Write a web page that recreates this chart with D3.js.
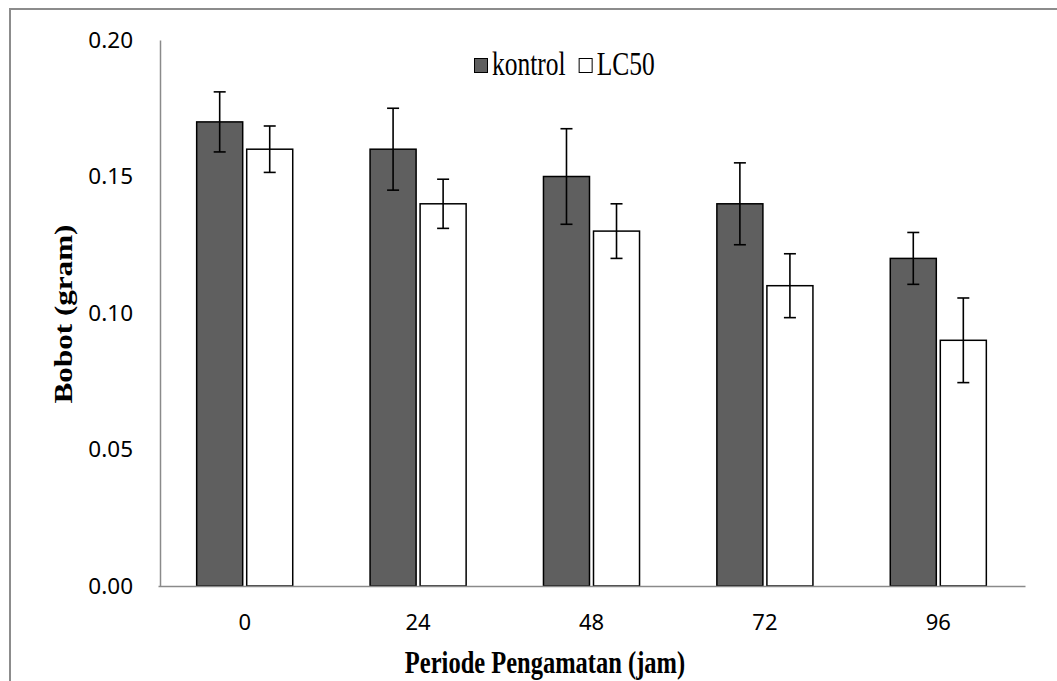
<!DOCTYPE html>
<html>
<head>
<meta charset="utf-8">
<script src="https://cdn.jsdelivr.net/npm/d3@7"></script>
<style>
  body { margin: 0; background: #fff; }
  svg { display: block; }
</style>
</head>
<body>
<svg id="chart"></svg>
<script>
var periods = ["0", "24", "48", "72", "96"];
var seriesNames = ["kontrol", "LC50"];
var kontrol = [0.17, 0.16, 0.15, 0.14, 0.12];
var kontrolErr = [0.011, 0.015, 0.0175, 0.015, 0.0095];
var lc50 = [0.16, 0.14, 0.13, 0.11, 0.09];
var lc50Err = [0.0085, 0.009, 0.010, 0.0117, 0.0155];
var yTicks = [0, 0.05, 0.10, 0.15, 0.20];

var width = 1057,
    height = 681,
    plotLeft = 158, plotRight = 1025,
    plotTop = 40, plotBottom = 586;

var colors = { kontrol: "#5f5f5f", LC50: "#ffffff" };
var serif = "'Liberation Serif', 'Times New Roman', serif";
var sans = "'Noto Sans', sans-serif";

var svg = d3.select("#chart")
    .attr("width", width)
    .attr("height", height);

// outer frame (only left and top edges show)
svg.append("rect")
    .attr("x", 10).attr("y", 9)
    .attr("width", width + 20).attr("height", height + 20)
    .attr("fill", "none")
    .attr("stroke", "#8c8c8c")
    .attr("stroke-width", 2);

var x = d3.scaleBand().domain(periods).range([plotLeft, plotRight]);
var bw = x.bandwidth();
var group = 0.554 * bw;
var xs = d3.scaleBand().domain(seriesNames)
    .range([(bw - group) / 2, (bw + group) / 2])
    .paddingInner(0.08);
var y = d3.scaleLinear().domain([0, 0.20]).range([plotBottom, plotTop]);

var rows = periods.map(function(p, i) {
    return {
        period: p,
        values: [
            { key: "kontrol", v: kontrol[i], e: kontrolErr[i] },
            { key: "LC50", v: lc50[i], e: lc50Err[i] }
        ]
    };
});

// y axis
var yAxis = svg.append("g")
    .attr("transform", "translate(" + (plotLeft + 2) + ",0)")
    .call(d3.axisLeft(y).tickValues(yTicks).tickSize(0).tickPadding(27)
        .tickFormat(d3.format(".2f")));
yAxis.select(".domain").attr("stroke", "#8a8a8a").attr("stroke-width", 1.5);
yAxis.selectAll("text")
    .attr("font-family", sans)
    .attr("font-size", 22.5)
    .attr("fill", "#000");

var groups = svg.selectAll(".grp")
    .data(rows)
    .enter().append("g")
    .attr("class", "grp")
    .attr("transform", function(d) { return "translate(" + x(d.period) + ",0)"; });

groups.selectAll("rect")
    .data(function(d) { return d.values; })
    .enter().append("rect")
    .attr("x", function(d) { return xs(d.key); })
    .attr("y", function(d) { return y(d.v); })
    .attr("width", xs.bandwidth())
    .attr("height", function(d) { return y(0) - y(d.v); })
    .attr("fill", function(d) { return colors[d.key]; })
    .attr("stroke", "#000")
    .attr("stroke-width", 1.5);

// x axis
var xAxis = svg.append("g")
    .attr("transform", "translate(0," + plotBottom + ")")
    .call(d3.axisBottom(x).tickSize(0).tickPadding(28));
xAxis.select(".domain").attr("stroke", "#8a8a8a").attr("stroke-width", 1.5);
xAxis.selectAll("text")
    .attr("font-family", sans)
    .attr("font-size", 22)
    .attr("fill", "#000");

// error bars
var eb = groups.selectAll(".err")
    .data(function(d) { return d.values; })
    .enter().append("g")
    .attr("class", "err")
    .attr("stroke", "#000")
    .attr("stroke-width", 1.6);
eb.append("line")
    .attr("x1", function(d) { return xs(d.key) + xs.bandwidth() / 2; })
    .attr("x2", function(d) { return xs(d.key) + xs.bandwidth() / 2; })
    .attr("y1", function(d) { return y(d.v + d.e); })
    .attr("y2", function(d) { return y(d.v - d.e); });
[1, -1].forEach(function(s) {
    eb.append("line")
        .attr("x1", function(d) { return xs(d.key) + xs.bandwidth() / 2 - 6; })
        .attr("x2", function(d) { return xs(d.key) + xs.bandwidth() / 2 + 6; })
        .attr("y1", function(d) { return y(d.v + s * d.e); })
        .attr("y2", function(d) { return y(d.v + s * d.e); });
});

// axis titles (the source picture is stretched vertically)
svg.append("text")
    .attr("transform", "translate(545,673) scale(1,1.27)")
    .attr("text-anchor", "middle")
    .attr("font-family", serif)
    .attr("font-weight", "bold")
    .attr("font-size", 24.5)
    .text("Periode Pengamatan (jam)");

svg.append("text")
    .attr("transform", "translate(72,314) scale(1,1.27) rotate(-90)")
    .attr("text-anchor", "middle")
    .attr("font-family", serif)
    .attr("font-weight", "bold")
    .attr("font-size", 24.5)
    .text("Bobot (gram)");

// legend
var legend = svg.append("g").attr("transform", "translate(474,58)");
var lx = 0;
seriesNames.forEach(function(name) {
    legend.append("rect")
        .attr("x", lx + 0.5).attr("y", 0.5)
        .attr("width", 13).attr("height", 14)
        .attr("fill", colors[name])
        .attr("stroke", "#000")
        .attr("stroke-width", 1);
    var t = legend.append("text")
        .attr("transform", "translate(" + (lx + 18) + ",17) scale(1,1.3)")
        .attr("font-family", serif)
        .attr("font-size", 25.5)
        .text(name);
    lx += 18 + t.node().getComputedTextLength() + 13;
});
</script>
</body>
</html>
